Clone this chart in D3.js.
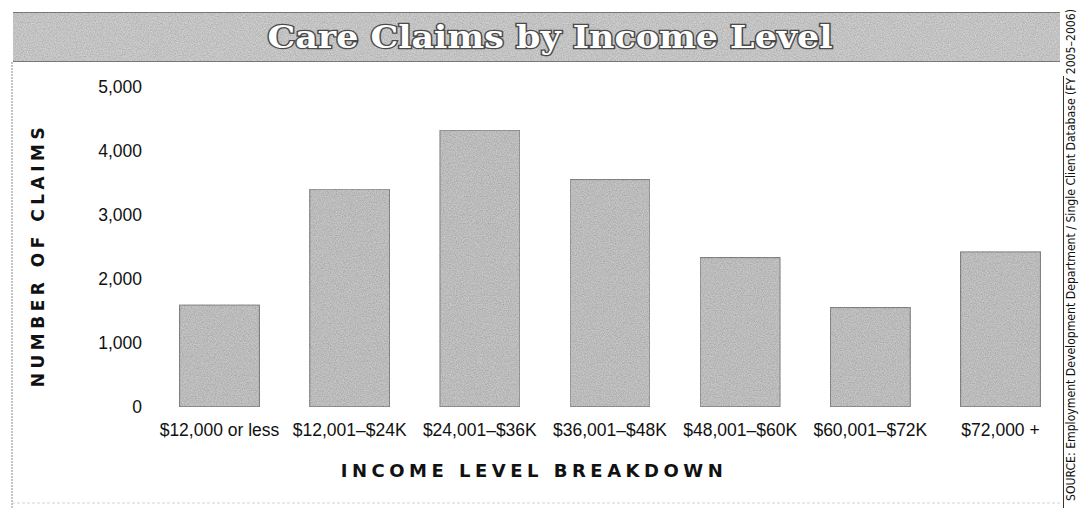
<!DOCTYPE html>
<html>
<head>
<meta charset="utf-8">
<script src="https://cdn.jsdelivr.net/npm/d3@7"></script>
<style>
  html, body { margin: 0; padding: 0; background: #fff; }
  svg { display: block; }
</style>
</head>
<body>
<svg id="chart" width="1081" height="508"></svg>
<script>
// Claims per income bracket
const categories = [
  "$12,000 or less", "$12,001–$24K", "$24,001–$36K", "$36,001–$48K",
  "$48,001–$60K", "$60,001–$72K", "$72,000 +"
];
const claims = [1590, 3400, 4320, 3550, 2330, 1550, 2420];
const yTicks = [0, 1000, 2000, 3000, 4000, 5000];

const titleText = "Care Claims by Income Level";
const yTitle = "NUMBER OF CLAIMS";
const xTitle = "INCOME LEVEL BREAKDOWN";
const sourceText = "SOURCE: Employment Development Department / Single Client Database (FY 2005–2006)";

const svg = d3.select("#chart");
const W = 1081, H = 508;

// newsprint grain for the grey fills
const defs = svg.append("defs");
const grain = defs.append("filter").attr("id", "grain")
  .attr("x", 0).attr("y", 0).attr("width", "100%").attr("height", "100%");
grain.append("feTurbulence").attr("type", "fractalNoise")
  .attr("baseFrequency", 0.85).attr("numOctaves", 2).attr("seed", 7).attr("result", "noise");
grain.append("feColorMatrix").attr("in", "noise").attr("type", "matrix")
  .attr("values", "0.6 0 0 0 0.56  0.6 0 0 0 0.56  0.6 0 0 0 0.56  0 0 0 0 1")
  .attr("result", "speck");
grain.append("feBlend").attr("in", "SourceGraphic").attr("in2", "speck")
  .attr("mode", "multiply").attr("result", "mix");
grain.append("feComposite").attr("in", "mix").attr("in2", "SourceGraphic").attr("operator", "in");

// frame lines
svg.append("line").attr("x1", 12).attr("x2", 12).attr("y1", 62).attr("y2", H)
  .attr("stroke", "#8a8a8a").attr("stroke-width", 1).attr("stroke-dasharray", "2,1");
svg.append("line").attr("x1", 12).attr("x2", 1060).attr("y1", 503).attr("y2", 503)
  .attr("stroke", "#d4d4d4").attr("stroke-width", 1).attr("stroke-dasharray", "3,2");
svg.append("line").attr("x1", 1063.5).attr("x2", 1063.5).attr("y1", 76).attr("y2", H)
  .attr("stroke", "#333").attr("stroke-width", 1);

// title band
svg.append("rect").attr("x", 13).attr("y", 12).attr("width", 1047).attr("height", 50)
  .attr("fill", "#d0d0d0").attr("filter", "url(#grain)");
svg.append("line").attr("x1", 13).attr("x2", 1060).attr("y1", 12.5).attr("y2", 12.5)
  .attr("stroke", "#777").attr("stroke-width", 1);
svg.append("line").attr("x1", 13).attr("x2", 1060).attr("y1", 61.5).attr("y2", 61.5)
  .attr("stroke", "#777").attr("stroke-width", 1);

svg.append("text")
  .attr("x", 550).attr("y", 48)
  .attr("text-anchor", "middle")
  .attr("textLength", 565).attr("lengthAdjust", "spacingAndGlyphs")
  .style("font-family", "'DejaVu Serif', serif")
  .style("font-weight", "bold")
  .style("font-stretch", "condensed")
  .style("font-size", "32px")
  .attr("fill", "#fff")
  .attr("stroke", "#4a4a4a").attr("stroke-width", 2.6)
  .attr("paint-order", "stroke")
  .text(titleText);

// scales
const y = d3.scaleLinear().domain([0, 5000]).range([406.7, 86.7]);
const x = d3.scaleBand().domain(categories).range([154.4, 1065.6])
  .paddingInner(0.386).paddingOuter(0.193);

// bars
svg.append("g").selectAll("rect")
  .data(claims)
  .join("rect")
  .attr("x", (d, i) => x(categories[i]))
  .attr("y", d => y(d))
  .attr("width", x.bandwidth())
  .attr("height", d => y(0) - y(d))
  .attr("fill", "#c8c8c8")
  .attr("stroke", "#8a8a8a").attr("stroke-width", 1.2)
  .attr("filter", "url(#grain)");

// y axis
const yAxis = svg.append("g").attr("transform", "translate(150,0)")
  .call(d3.axisLeft(y).tickValues(yTicks).tickFormat(d3.format(",")).tickSize(0).tickPadding(8));
yAxis.select(".domain").remove();
yAxis.selectAll("text")
  .style("font-family", "'Liberation Sans', Arial, sans-serif")
  .style("font-size", "17.5px").attr("fill", "#111");

// x axis
const xAxis = svg.append("g").attr("transform", `translate(0,${y(0)})`)
  .call(d3.axisBottom(x).tickSize(0).tickPadding(17));
xAxis.select(".domain").remove();
xAxis.selectAll("text")
  .style("font-family", "'Liberation Sans', Arial, sans-serif")
  .style("font-size", "17.5px").attr("fill", "#111");

// axis titles
svg.append("text")
  .attr("transform", "translate(44,255) rotate(-90)")
  .attr("text-anchor", "middle")
  .style("font-family", "'DejaVu Sans', sans-serif")
  .style("font-weight", "bold").style("font-size", "17px")
  .style("letter-spacing", "4.5px")
  .attr("fill", "#111")
  .text(yTitle);

svg.append("text")
  .attr("x", 534).attr("y", 477)
  .attr("text-anchor", "middle")
  .style("font-family", "'DejaVu Sans', sans-serif")
  .style("font-weight", "bold").style("font-size", "18px")
  .style("letter-spacing", "4.5px")
  .attr("fill", "#111")
  .text(xTitle);

// source note, running up the right edge
svg.append("text")
  .attr("transform", "translate(1075,9) rotate(-90)")
  .attr("text-anchor", "end")
  .attr("textLength", 492).attr("lengthAdjust", "spacingAndGlyphs")
  .style("font-family", "'DejaVu Sans', sans-serif")
  .style("font-stretch", "condensed")
  .style("font-size", "12px")
  .attr("fill", "#111")
  .text(sourceText);
</script>
</body>
</html>
